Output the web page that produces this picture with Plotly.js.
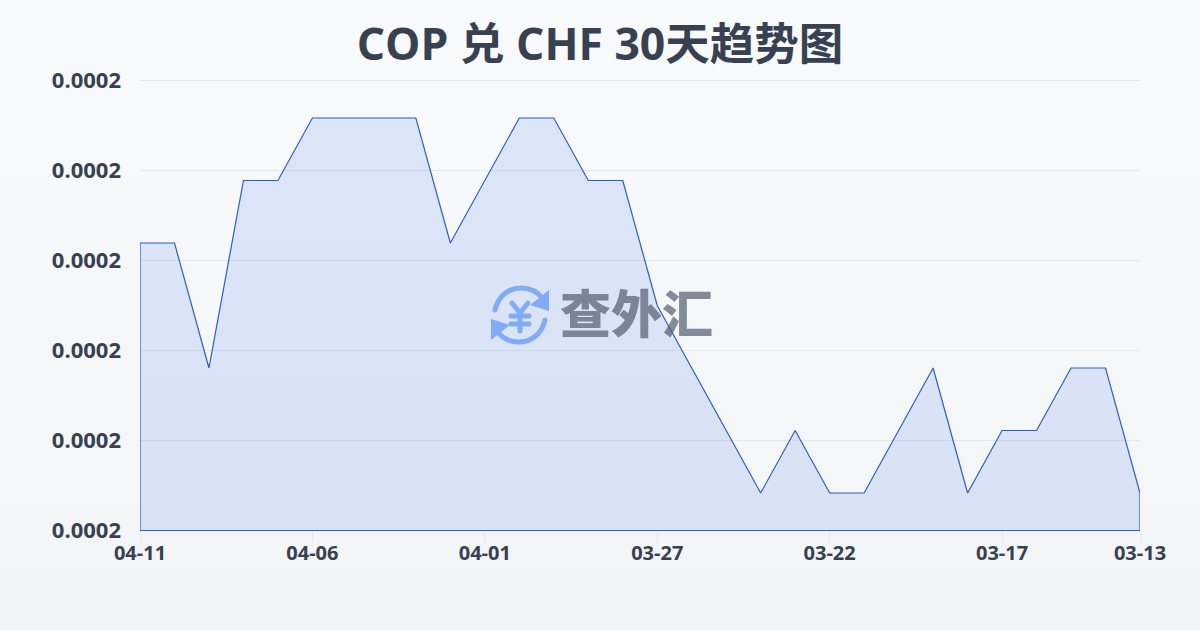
<!DOCTYPE html>
<html><head><meta charset="utf-8">
<script src="https://cdn.plot.ly/plotly-3.0.1.min.js"></script>
<style>html,body{margin:0;padding:0;width:1200px;height:630px;overflow:hidden;background:linear-gradient(180deg,#f8fafc 0%,#f3f4f6 100%)}#c{width:1200px;height:630px}</style>
</head><body><div id="c"></div>
<script>
const dates=["04-11","04-10","04-09","04-08","04-07","04-06","04-05","04-04","04-03","04-02","04-01","03-31","03-30","03-29","03-28","03-27","03-26","03-25","03-24","03-23","03-22","03-21","03-20","03-19","03-18","03-17","03-16","03-15","03-14","03-13"];
const rates=[0.000205,0.000205,0.000203,0.000206,0.000206,0.000207,0.000207,0.000207,0.000207,0.000205,0.000206,0.000207,0.000207,0.000206,0.000206,0.000204,0.000203,0.000202,0.000201,0.000202,0.000201,0.000201,0.000202,0.000203,0.000201,0.000202,0.000202,0.000203,0.000203,0.000201];
const tickDates=["04-11","04-06","04-01","03-27","03-22","03-17","03-13"];
const yMin=0.0002004, yMax=0.0002076;
const yLo=0.000200392, yHi=0.00020764;
const yTicks=[0,1,2,3,4,5].map(i=>yMin+(yMax-yMin)*i/5);
const titleText="COP 兑 CHF 30天趋势图";
const brand="查外汇";
const icon=`<svg xmlns="http://www.w3.org/2000/svg" width="60" height="58" viewBox="2 3 60 58"><g fill="none" stroke="#8fb6f8" stroke-width="5" stroke-linecap="round" stroke-linejoin="round"><path d="M7 27C10 13 21 5 33 5c10 0 17 4 22 11"/><path d="M57 37C54 51 43 59 31 59c-10 0-17-4-22-11"/><path d="M24 20l8 10 8-10M32 30v18M23 33h18M23 41h18"/></g><path d="M61 7v21l-19-6zM3 57V36l19 6z" fill="#8fb6f8"/></svg>`;
Plotly.newPlot("c",[{
 type:"scatter",mode:"lines",
 x:dates.concat([dates[29],dates[0],dates[0]]),
 y:rates.concat([yMin,yMin,rates[0]]),
 fill:"toself",fillcolor:"rgba(37,99,235,0.13)",
 line:{color:"#2a5fc6",width:1.2,shape:"linear"},
 hoverinfo:"skip",cliponaxis:false
}],{
 width:1200,height:630,
 paper_bgcolor:"rgba(0,0,0,0)",plot_bgcolor:"rgba(0,0,0,0)",
 showlegend:false,
 margin:{l:140,r:60,t:78,b:99,pad:0},
 title:{text:titleText,x:0.5,xanchor:"center",y:0.93,yanchor:"middle",font:{family:"'Open Sans','Noto Sans CJK SC',sans-serif",size:44.5,color:"#374151",weight:700}},
 xaxis:{type:"category",categoryorder:"array",categoryarray:dates,range:[0,29],tickmode:"array",tickvals:tickDates,ticktext:tickDates,
  showgrid:false,zeroline:false,showline:false,ticks:"outside",ticklen:10,tickcolor:"#e5e7eb",tickwidth:1,tickangle:0,ticklabelstandoff:-6,
  tickfont:{family:"'Open Sans',sans-serif",size:20,color:"#374151",weight:700}},
 yaxis:{range:[yLo,yHi],tickmode:"array",tickvals:yTicks,ticktext:yTicks.map(v=>v.toFixed(4)),
  showgrid:true,gridcolor:"#e5e7eb",gridwidth:1,zeroline:false,showline:false,ticks:"",ticklabelstandoff:18,
  tickfont:{family:"'Open Sans',sans-serif",size:22,color:"#374151",weight:700}},
 images:[{source:"data:image/svg+xml;utf8,"+encodeURIComponent(icon),xref:"paper",yref:"paper",x:0.35,y:0.543,sizex:0.06,sizey:0.1325,xanchor:"left",yanchor:"top",sizing:"contain",layer:"below",opacity:1}],
 annotations:[{text:brand,xref:"paper",yref:"paper",x:0.496,y:0.485,xanchor:"center",yanchor:"middle",showarrow:false,font:{family:"'Noto Sans CJK SC',sans-serif",size:51,color:"rgba(88,96,114,0.72)",weight:900}}]
},{displayModeBar:false,staticPlot:true});
</script></body></html>
